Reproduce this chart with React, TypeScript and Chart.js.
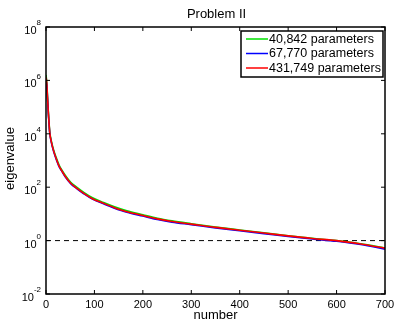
import React, { useEffect, useRef } from "react";
import { Chart, registerables } from "chart.js";

Chart.register(...registerables);

const titleText = "Problem II";
const xLabel = "number";
const yLabel = "eigenvalue";
const xTicks = [0, 100, 200, 300, 400, 500, 600, 700];
const yTickExps = [-2, 0, 2, 4, 6, 8];

const xs = [0, 1, 2, 3, 4, 5, 6, 7, 8, 11, 16, 22, 27, 32, 40, 51, 64, 78, 95, 119, 140, 167, 200, 230, 260, 300, 350, 400, 450, 500, 550, 600, 650, 700];
const green = [1.6e6, 1.1e6, 6.5e5, 2.7e5, 1.3e5, 6e4, 3.2e4, 1.7e4, 1.08e4, 5.4e3, 2.35e3, 1.15e3, 680, 460, 275, 153, 98, 64, 41, 26.5, 18.8, 13, 9.3, 6.9, 5.5, 4.3, 3.22, 2.5, 1.95, 1.52, 1.22, 1.0, 0.76, 0.53];
const blue = [9e5, 8e5, 5.5e5, 2.3e5, 1.1e5, 5e4, 2.8e4, 1.5e4, 9.5e3, 4.8e3, 2.1e3, 1.0e3, 590, 415, 240, 136, 87, 57, 36.5, 23.8, 16.8, 11.5, 8.3, 6.2, 4.9, 3.95, 2.98, 2.33, 1.83, 1.43, 1.15, 0.94, 0.71, 0.48];
const red = [1.3e6, 1.0e6, 6e5, 2.5e5, 1.2e5, 5.5e4, 3e4, 1.6e4, 1e4, 5e3, 2.2e3, 1.05e3, 620, 430, 250, 140, 90, 59, 38, 24.8, 17.5, 12, 8.7, 6.5, 5.2, 4.15, 3.12, 2.45, 1.92, 1.5, 1.2, 1.0, 0.75, 0.52];
const seriesNames = ["40,842 parameters", "67,770 parameters", "431,749 parameters"];
const seriesColors = ["#00e000", "#0000ff", "#ff0000"];
const refLineY = [1, 1];
const refLineX = [0, 700];

const FONT = "'Liberation Sans', Arial, Helvetica, sans-serif";

export default function App() {
  const ref = useRef<HTMLCanvasElement | null>(null);
  useEffect(() => {
    document.body.style.margin = "0";
    const canvas = ref.current!;
    const toPts = (ys: number[]) => xs.map((x, i) => ({ x, y: ys[i] }));
    const overlay = {
      id: "matlabAxes",
      afterDraw(chart: any) {
        const ctx = chart.ctx as CanvasRenderingContext2D;
        const a = chart.chartArea;
        const sx = chart.scales.x;
        const sy = chart.scales.y;
        ctx.save();
        ctx.strokeStyle = "#000";
        ctx.fillStyle = "#000";
        ctx.lineWidth = 1.5;
        ctx.strokeRect(a.left, a.top, a.right - a.left, a.bottom - a.top);
        ctx.lineWidth = 1;
        const tl = 4;
        ctx.beginPath();
        for (const t of xTicks) {
          const px = sx.getPixelForValue(t);
          ctx.moveTo(px, a.bottom);
          ctx.lineTo(px, a.bottom - tl);
          ctx.moveTo(px, a.top);
          ctx.lineTo(px, a.top + tl);
        }
        for (const e of yTickExps) {
          const py = sy.getPixelForValue(Math.pow(10, e));
          ctx.moveTo(a.left, py);
          ctx.lineTo(a.left + tl, py);
          ctx.moveTo(a.right, py);
          ctx.lineTo(a.right - tl, py);
        }
        ctx.stroke();
        // x tick labels
        ctx.font = `11px ${FONT}`;
        ctx.textAlign = "center";
        ctx.textBaseline = "middle";
        for (const t of xTicks) {
          ctx.fillText(String(t), sx.getPixelForValue(t), a.bottom + 11);
        }
        // y tick labels
        for (const e of yTickExps) {
          const py = sy.getPixelForValue(Math.pow(10, e));
          const exp = String(e);
          ctx.font = `8px ${FONT}`;
          const ew = ctx.measureText(exp).width;
          const expX = a.left - 5 - ew;
          ctx.textAlign = "left";
          ctx.fillText(exp, expX, py - 4);
          ctx.font = `11px ${FONT}`;
          ctx.textAlign = "right";
          ctx.fillText("10", expX, py + 4);
        }
        // axis labels
        ctx.font = `13px ${FONT}`;
        ctx.textAlign = "center";
        ctx.fillText(xLabel, (a.left + a.right) / 2, a.bottom + 21);
        ctx.save();
        ctx.translate(10, (a.top + a.bottom) / 2 - 2);
        ctx.rotate(-Math.PI / 2);
        ctx.fillText(yLabel, 0, 0);
        ctx.restore();
        // title
        ctx.fillText(titleText, (a.left + a.right) / 2 + 1, 14);
        // legend
        const lx = 241, ly = 31, lw = 142, lh = 46;
        ctx.fillStyle = "#fff";
        ctx.fillRect(lx, ly, lw, lh);
        ctx.strokeStyle = "#000";
        ctx.lineWidth = 1.5;
        ctx.strokeRect(lx, ly, lw, lh);
        ctx.font = `12.5px ${FONT}`;
        ctx.textAlign = "left";
        ctx.fillStyle = "#000";
        seriesNames.forEach((n, i) => {
          const yy = ly + 8 + i * 14.5;
          ctx.strokeStyle = seriesColors[i];
          ctx.lineWidth = 1.5;
          ctx.beginPath();
          ctx.moveTo(lx + 5, yy);
          ctx.lineTo(lx + 27, yy);
          ctx.stroke();
          ctx.fillText(n, lx + 28, yy + 0.5);
        });
        ctx.restore();
      },
    };
    const common = { borderWidth: 1.6, pointRadius: 0, cubicInterpolationMode: "monotone" as const };
    const chart = new Chart(canvas, {
      type: "line",
      data: {
        datasets: [
          { label: seriesNames[0], data: toPts(green), borderColor: seriesColors[0], order: 2, ...common },
          { label: seriesNames[1], data: toPts(blue), borderColor: seriesColors[1], order: 1, ...common },
          { label: seriesNames[2], data: toPts(red), borderColor: seriesColors[2], order: 0, ...common },
          { label: "ref", data: refLineX.map((x, i) => ({ x, y: refLineY[i] })), borderColor: "#000", borderWidth: 1, borderDash: [5, 4], pointRadius: 0, order: 3 },
        ],
      },
      options: {
        animation: false,
        responsive: false,
        layout: { padding: { left: 46, right: 14, top: 27, bottom: 33 } },
        plugins: { legend: { display: false }, tooltip: { enabled: false }, title: { display: false } },
        scales: {
          x: { type: "linear", min: 0, max: 700, display: false },
          y: { type: "logarithmic", min: 1e-2, max: 1e8, display: false },
        },
      },
      plugins: [overlay],
    });
    return () => chart.destroy();
  }, []);
  return (
    <div style={{ position: "absolute", left: 0, top: 0, width: 399, height: 327, background: "#fff" }}>
      <canvas ref={ref} width={399} height={327} style={{ width: 399, height: 327 }} />
    </div>
  );
}
